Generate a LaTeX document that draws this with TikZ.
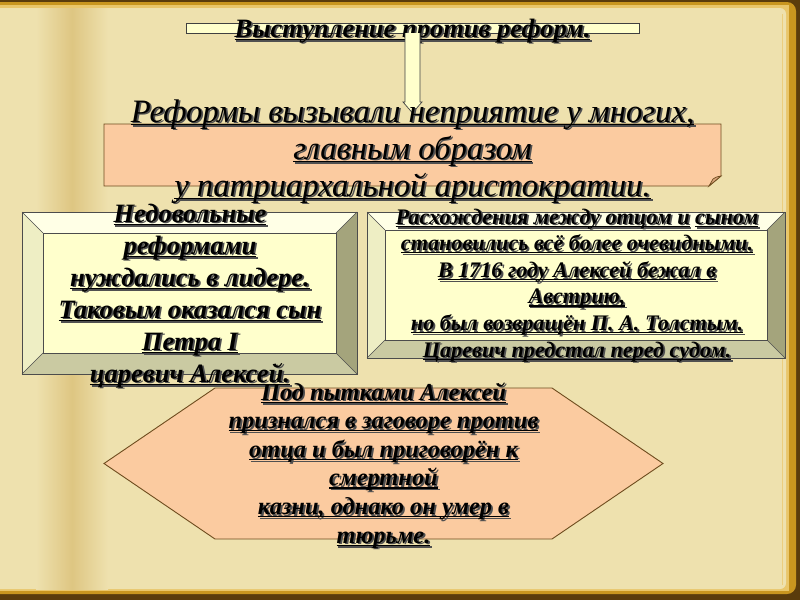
\documentclass[tikz,border=0pt]{standalone}
\usepackage{fontspec}
\setmainfont{Liberation Serif}
\usetikzlibrary{calc}
\definecolor{parch}{HTML}{EEE1AE}
\definecolor{parchdark}{HTML}{DEC682}
\definecolor{darkbrown}{HTML}{5A3C0C}
\definecolor{goldband}{HTML}{C9961F}
\definecolor{goldlight}{HTML}{E9C66A}
\definecolor{peach}{HTML}{FBCBA0}
\definecolor{peachdark}{HTML}{D9A47A}
\definecolor{edgebrown}{HTML}{6E4C1E}
\definecolor{creamface}{HTML}{FFFFCC}
\definecolor{beveltop}{HTML}{FFFFE6}
\definecolor{bevelleft}{HTML}{EEEEC4}
\definecolor{bevelright}{HTML}{A4A47C}
\definecolor{bevelbottom}{HTML}{CACAA2}
\definecolor{shadowc}{HTML}{505050}
\newcommand\ulin[1]{\setbox0\hbox{#1}\rlap{\rule[-2.8pt]{\wd0}{1.3pt}}\box0}
\newcommand\shl[1]{\leavevmode\rlap{\kern1.8pt\raisebox{-1.8pt}{\color{shadowc}\ulin{#1}}}\ulin{#1}}
\newcommand\tstrut[1]{\rule{0pt}{#1pt}}
\newcommand\bevelbox[2]{%
  \fill[creamface] (#1.north west) rectangle (#1.south east);
  \fill[beveltop] (#1.north west) -- (#1.north east) -- ($(#1.north east)+(-#2,#2)$) -- ($(#1.north west)+(#2,#2)$) -- cycle;
  \fill[bevelleft] (#1.north west) -- ($(#1.north west)+(#2,#2)$) -- ($(#1.south west)+(#2,-#2)$) -- (#1.south west) -- cycle;
  \fill[bevelright] (#1.north east) -- ($(#1.north east)+(-#2,#2)$) -- ($(#1.south east)+(-#2,-#2)$) -- (#1.south east) -- cycle;
  \fill[bevelbottom] (#1.south west) -- ($(#1.south west)+(#2,-#2)$) -- ($(#1.south east)+(-#2,-#2)$) -- (#1.south east) -- cycle;
  \draw[bevelline] (#1.north west) rectangle (#1.south east);
  \draw[bevelline] ($(#1.north west)+(#2,#2)$) rectangle ($(#1.south east)+(-#2,-#2)$);
  \draw[bevelline] (#1.north west) -- ($(#1.north west)+(#2,#2)$);
  \draw[bevelline] (#1.north east) -- ($(#1.north east)+(-#2,#2)$);
  \draw[bevelline] (#1.south west) -- ($(#1.south west)+(#2,-#2)$);
  \draw[bevelline] (#1.south east) -- ($(#1.south east)+(-#2,-#2)$);
}
\tikzset{
  frame/.style={inner sep=0pt, outer sep=0pt, draw=none},
  txt/.style={inner sep=0pt, outer sep=0pt, align=center, anchor=north},
  bevelline/.style={draw=black!70, line width=0.6pt},
  peachline/.style={draw=edgebrown, line width=0.9pt, fill=peach, line join=miter},
  creamline/.style={draw=black!75, line width=0.8pt, fill=creamface},
}
\begin{document}
\begin{tikzpicture}[x=1pt,y=-1pt]
\useasboundingbox (0,0) rectangle (800,600);
% ---- book background ----
\fill[darkbrown] (0,0) rectangle (800,600);
\fill[goldband, rounded corners=9pt] (-20,2) rectangle (796,594);
\fill[goldlight] (-20,5) rectangle (789,591);
\fill[parch, rounded corners=6pt] (-20,8) rectangle (786,589);
\fill[parch] (-20,8) rectangle (20,589);
\shade[left color=parch, right color=parchdark] (36,8) rectangle (72,589);
\shade[left color=parchdark, right color=parch] (72,8) rectangle (108,589);
\draw[goldlight!70!parch, line width=1pt] (782,14) -- (782,585);
% ---- title ----
\node[frame, minimum width=453pt, minimum height=10pt, creamline, draw=black!75] (tb) at (412.5,28) {};
\node[txt, font=\fontsize{26.5}{30}\selectfont\bfseries\itshape] (tt) at (412.5,10.5) {\tstrut{26.5}\shl{Выступление против реформ.}};
% ---- main box ----
\node[frame, minimum width=617pt, minimum height=62pt] (mb) at (412.5,155) {};
\draw[peachline] (mb.north west) -- (mb.north east) -- ($(mb.south east)+(0,-10)$) -- ($(mb.south east)+(-12,0)$) -- (mb.south west) -- cycle;
\draw[draw=edgebrown, line width=0.7pt, fill=peachdark] ($(mb.south east)+(0,-10)$) .. controls ($(mb.south east)+(-5,-9)$) .. ($(mb.south east)+(-8,-7)$) -- ($(mb.south east)+(-12,0)$) -- cycle;
% arrow from title to main box
\coordinate (tip) at ($(mb.north)+(0,-11)$);
\draw[creamline, line width=0.7pt] ($(tb.south)+(-7.5,0)$) -- ($(tip)+(-7.5,-11)$) -- ($(tip)+(-9.5,-11)$) -- (tip) -- ($(tip)+(9.5,-11)$) -- ($(tip)+(7.5,-11)$) -- ($(tb.south)+(7.5,0)$);
\node[txt, font=\fontsize{32.7}{37}\selectfont\itshape] (mt) at (412.5,89.3) {\tstrut{32.7}\shl{Реформы вызывали неприятие у многих,}\\\shl{главным образом}\\\shl{у патриархальной аристократии.}};
% ---- left bevel box ----
\node[frame, minimum width=335pt, minimum height=162pt] (lb) at (189.5,293) {};
\bevelbox{lb}{21}
\node[txt, font=\fontsize{26.5}{32}\selectfont\bfseries\itshape] (lt) at (190,195.5) {\tstrut{26.5}\shl{Недовольные}\\\shl{реформами}\\\shl{нуждались в лидере.}\\\shl{Таковым оказался сын}\\\shl{Петра I}\\\shl{царевич Алексей.}};
% ---- right bevel box ----
\node[frame, minimum width=418pt, minimum height=146pt] (rb) at (576,285) {};
\bevelbox{rb}{18}
\node[txt, font=\fontsize{22.2}{26.6}\selectfont\bfseries\itshape] (rt) at (577,201.8) {\tstrut{22.2}\shl{Расхождения между отцом и}\ \shl{сыном}\\\shl{становились всё более очевидными.}\\\shl{В 1716 году Алексей бежал в}\\\shl{Австрию,}\\\shl{но был возвращён П. А. Толстым.}\\\shl{Царевич предстал перед судом.}};
% ---- hexagon ----
\node[frame, minimum width=559pt, minimum height=151pt] (hx) at (383.5,463.5) {};
\draw[peachline] (hx.west) -- ($(hx.north west)+(111,0)$) -- ($(hx.north east)+(-111,0)$) -- (hx.east) -- ($(hx.south east)+(-111,0)$) -- ($(hx.south west)+(111,0)$) -- cycle;
\node[txt, font=\fontsize{24.4}{28.6}\selectfont\bfseries\itshape] (ht) at (383.5,375.6) {\tstrut{24.4}\shl{Под пытками Алексей}\\\shl{признался в заговоре против}\\\shl{отца и был приговорён к}\\\shl{смертной}\\\shl{казни, однако он умер в}\\\shl{тюрьме.}};
\end{tikzpicture}
\end{document}
